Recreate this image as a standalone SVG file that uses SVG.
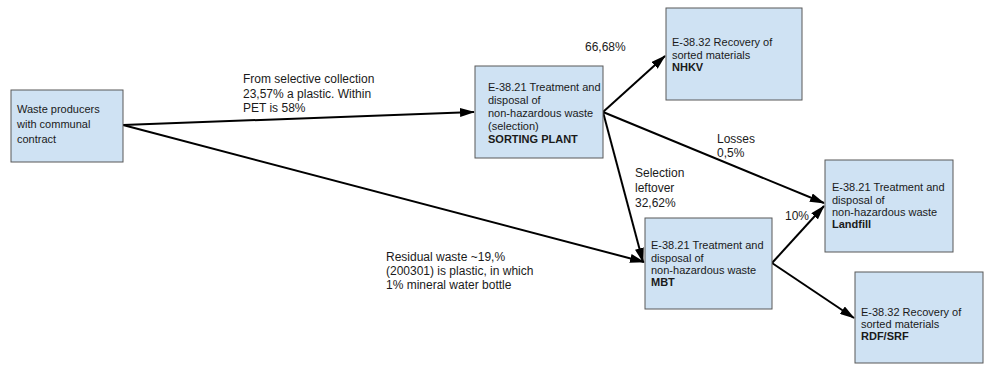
<svg xmlns="http://www.w3.org/2000/svg" width="989" height="365" viewBox="0 0 989 365">
  <style>
    .box { fill: #cfe2f3; stroke: #595959; stroke-width: 1; }
    .bt { font-family: "Liberation Sans", Arial, sans-serif; font-size: 11px; fill: #1a1a1a; }
    .lb { font-family: "Liberation Sans", Arial, sans-serif; font-size: 12px; fill: #1a1a1a; }
    .b { font-weight: bold; }
    .edge { stroke: #000; stroke-width: 2; fill: none; marker-end: url(#arrow); }
  </style>
  <defs>
    <marker id="arrow" viewBox="0 0 15 9" refX="14" refY="4.5" markerWidth="7.5" markerHeight="4.5" orient="auto" markerUnits="strokeWidth">
      <path d="M0,0 L15,4.5 L0,9 z" fill="#000"/>
    </marker>
  </defs>
  <rect width="989" height="365" fill="#fff"/>

  <g id="connectors">
    <line class="edge" x1="123" y1="125" x2="474" y2="112"/>
    <line class="edge" x1="123" y1="125" x2="644" y2="262"/>
    <line class="edge" x1="603" y1="112" x2="665" y2="56"/>
    <line class="edge" x1="603" y1="112" x2="824" y2="203"/>
    <line class="edge" x1="603" y1="112" x2="643" y2="262"/>
    <line class="edge" x1="772" y1="263" x2="824" y2="206"/>
    <line class="edge" x1="772" y1="263" x2="854" y2="318"/>
  </g>

  <g id="labels">
    <text class="lb" x="243" y="83">From selective collection</text>
    <text class="lb" x="243" y="97.5">23,57% a plastic. Within</text>
    <text class="lb" x="243" y="112">PET is 58%</text>
    <text class="lb" x="585" y="51">66,68%</text>
    <text class="lb" x="717" y="143">Losses</text>
    <text class="lb" x="717" y="157">0,5%</text>
    <text class="lb" x="635" y="177">Selection</text>
    <text class="lb" x="635" y="192">leftover</text>
    <text class="lb" x="635" y="207">32,62%</text>
    <text class="lb" x="785" y="220">10%</text>
    <text class="lb" x="386" y="261">Residual waste ~19,%</text>
    <text class="lb" x="386" y="275">(200301) is plastic, in which</text>
    <text class="lb" x="386" y="289">1% mineral water bottle</text>
  </g>

  <g id="producers">
    <rect class="box" x="11" y="90" width="112" height="72"/>
    <text class="bt" x="17" y="113">Waste producers</text>
    <text class="bt" x="17" y="128">with communal</text>
    <text class="bt" x="17" y="143">contract</text>
  </g>

  <g id="sorting-plant">
    <rect class="box" x="475" y="66" width="128" height="92"/>
    <text class="bt" x="488" y="91">E-38.21 Treatment and</text>
    <text class="bt" x="488" y="104">disposal of</text>
    <text class="bt" x="488" y="117">non-hazardous waste</text>
    <text class="bt" x="488" y="130">(selection)</text>
    <text class="bt b" x="488" y="143">SORTING PLANT</text>
  </g>

  <g id="nhkv">
    <rect class="box" x="666" y="8" width="136" height="92"/>
    <text class="bt" x="672" y="46">E-38.32 Recovery of</text>
    <text class="bt" x="672" y="59">sorted materials</text>
    <text class="bt b" x="672" y="71">NHKV</text>
  </g>

  <g id="landfill">
    <rect class="box" x="825" y="160" width="128" height="92"/>
    <text class="bt" x="832" y="191">E-38.21 Treatment and</text>
    <text class="bt" x="832" y="204">disposal of</text>
    <text class="bt" x="832" y="216">non-hazardous waste</text>
    <text class="bt b" x="832" y="228">Landfill</text>
  </g>

  <g id="mbt">
    <rect class="box" x="645" y="218" width="127" height="91"/>
    <text class="bt" x="651" y="249">E-38.21 Treatment and</text>
    <text class="bt" x="651" y="262">disposal of</text>
    <text class="bt" x="651" y="274">non-hazardous waste</text>
    <text class="bt b" x="651" y="286">MBT</text>
  </g>

  <g id="rdf-srf">
    <rect class="box" x="855" y="272" width="128" height="91"/>
    <text class="bt" x="861" y="316">E-38.32 Recovery of</text>
    <text class="bt" x="861" y="328">sorted materials</text>
    <text class="bt b" x="861" y="340">RDF/SRF</text>
  </g>
</svg>
